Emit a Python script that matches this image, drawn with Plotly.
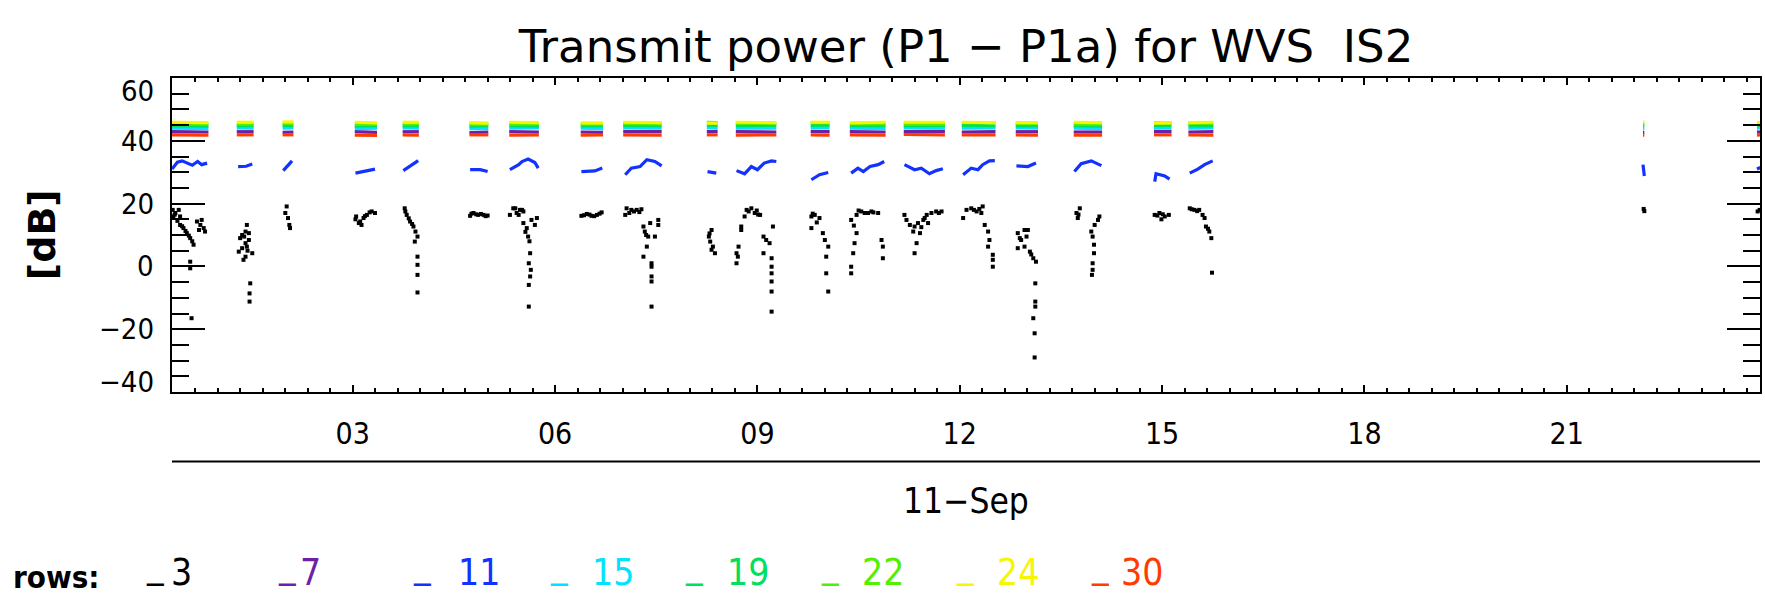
import plotly.graph_objects as go

FONT = "Liberation Sans Narrow, DejaVu Sans Condensed, Liberation Sans, sans-serif"
TITLE_FONT = "DejaVu Sans, Liberation Sans, sans-serif"

# ---- axis ticks -------------------------------------------------------------
hour_ticks = [3, 6, 9, 12, 15, 18, 21]
hour_labels = ["03", "06", "09", "12", "15", "18", "21"]
db_ticks = [-40, -20, 0, 20, 40, 60]
db_labels = ["\u221240", "\u221220", "0", "20", "40", "60"]
day_label = "11\u2212Sep"

# ---- rows and their colours ---------------------------------------------------
row_ids = [3, 7, 11, 15, 19, 22, 24, 30]
row_colors = ["#000000", "#6e1fa6", "#1232ff", "#00e2ff",
              "#00e05e", "#52f000", "#f6f600", "#ff3c00"]

# ---- observing passes (start, end) in hours of 11-Sep ---------------------------
pass_hours = [(0.32, 0.86), (1.28, 1.53), (1.96, 2.12), (3.03, 3.36), (3.74, 3.98),
              (4.73, 5.01), (5.32, 5.76), (6.38, 6.71), (7.01, 7.58), (8.25, 8.41),
              (8.68, 9.28), (9.79, 10.07), (10.37, 10.90), (11.17, 11.78), (12.03, 12.53),
              (12.83, 13.16), (13.69, 14.11), (14.88, 15.14), (15.39, 15.76), (22.13, 22.15),
              (23.82, 23.87)]

# transmit power [dB] at start / end of each pass for the upper rows
row7_db = [(42.9, 42.8), (42.9, 42.9), (42.7, 42.8), (42.9, 42.7), (42.9, 42.9),
           (42.6, 42.8), (42.9, 42.8), (42.8, 42.7), (42.9, 42.9), (42.9, 43.0),
           (42.9, 42.8), (43.0, 42.9), (42.9, 42.8), (42.9, 43.0), (42.8, 42.9),
           (42.9, 42.9), (42.8, 42.8), (43.0, 42.9), (42.8, 42.9), (42.7, 42.7),
           (42.8, 42.8)]
row11_pts = [
    [(0.32, 31.0), (0.40, 33.2), (0.47, 33.6), (0.56, 32.6), (0.62, 32.2), (0.70, 33.4), (0.76, 32.4), (0.84, 32.9)],
    [(1.30, 31.8), (1.42, 31.9), (1.51, 32.6)],
    [(1.97, 30.5), (2.02, 31.8), (2.10, 33.6)],
    [(3.04, 29.7), (3.16, 30.3), (3.33, 31.0)],
    [(3.75, 30.5), (3.88, 32.4), (3.97, 33.7)],
    [(4.74, 30.8), (4.89, 30.8), (5.00, 30.2)],
    [(5.33, 30.8), (5.46, 32.4), (5.51, 33.4), (5.60, 34.2), (5.70, 33.1), (5.75, 31.3)],
    [(6.39, 30.2), (6.59, 30.4), (6.70, 31.3)],
    [(7.04, 29.2), (7.13, 31.3), (7.26, 31.8), (7.36, 34.0), (7.48, 33.4), (7.58, 32.0)],
    [(8.26, 30.2), (8.39, 29.7)],
    [(8.69, 30.5), (8.81, 29.5), (8.91, 31.8), (9.00, 30.8), (9.10, 32.9), (9.21, 33.6), (9.28, 33.4)],
    [(9.80, 27.6), (9.92, 29.2), (10.05, 29.9)],
    [(10.39, 29.7), (10.49, 31.3), (10.57, 30.2), (10.67, 31.8), (10.79, 32.4), (10.88, 33.4)],
    [(11.18, 32.4), (11.33, 30.8), (11.43, 31.3), (11.55, 29.5), (11.65, 30.5), (11.75, 31.1)],
    [(12.05, 29.2), (12.17, 31.3), (12.27, 30.8), (12.34, 32.4), (12.44, 33.6), (12.52, 33.7)],
    [(12.84, 32.0), (13.01, 31.8), (13.13, 32.9)],
    [(13.70, 30.2), (13.80, 32.7), (13.95, 33.6), (14.10, 32.1)],
    [(14.89, 27.0), (14.91, 29.5), (15.04, 28.8), (15.11, 27.8)],
    [(15.41, 29.7), (15.53, 31.0), (15.63, 32.4), (15.75, 33.6)],
    [(22.13, 32.4), (22.14, 30.5), (22.15, 28.8)],
    [(23.82, 31.0), (23.87, 31.5)],
]
row15_db = [(44.0, 43.9), (44.1, 44.0), (44.0, 44.1), (43.9, 44.0), (44.1, 44.0),
            (43.9, 43.9), (44.0, 44.1), (44.0, 43.9), (44.1, 44.0), (44.2, 44.1),
            (44.0, 44.0), (44.2, 44.1), (44.0, 43.9), (44.1, 44.0), (44.0, 44.1),
            (44.1, 44.0), (44.0, 43.9), (44.1, 44.0), (44.0, 44.1), (44.0, 44.0),
            (44.1, 44.1)]
row19_db = [(44.8, 44.7), (44.8, 44.9), (44.9, 44.8), (44.7, 44.8), (44.8, 44.8),
            (44.7, 44.8), (44.8, 44.7), (44.8, 44.8), (44.9, 44.8), (45.0, 44.9),
            (44.8, 44.9), (44.9, 45.0), (44.8, 44.8), (44.8, 44.9), (44.9, 44.8),
            (44.8, 44.8), (44.8, 44.7), (44.9, 44.9), (44.8, 44.8), (44.9, 44.9),
            (44.8, 44.9)]
row22_db = [(45.4, 45.3), (45.3, 45.3), (45.6, 45.5), (45.2, 45.3), (45.3, 45.4),
            (45.2, 45.2), (45.3, 45.4), (45.3, 45.3), (45.5, 45.4), (45.9, 45.8),
            (45.6, 45.5), (45.8, 45.7), (45.5, 45.4), (45.3, 45.3), (45.8, 45.7),
            (45.5, 45.5), (45.3, 45.3), (45.7, 45.6), (45.6, 45.6), (45.4, 45.4),
            (45.5, 45.5)]
row24_db = [(45.9, 45.8), (45.9, 45.9), (46.0, 46.0), (45.9, 45.7), (45.9, 45.9),
            (45.8, 45.6), (45.9, 45.8), (45.7, 45.7), (45.9, 45.8), (45.6, 45.6),
            (45.9, 45.8), (45.9, 45.9), (45.7, 45.9), (45.9, 45.9), (45.9, 45.8),
            (45.8, 45.8), (45.9, 45.8), (45.6, 45.7), (45.8, 45.9), (46.0, 46.0),
            (45.9, 45.8)]
row30_db = [(41.9, 41.8), (41.9, 41.9), (41.9, 41.9), (41.8, 41.7), (41.9, 41.8),
            (41.9, 41.9), (41.8, 41.9), (41.8, 41.9), (41.9, 41.8), (41.9, 41.9),
            (41.8, 41.9), (41.9, 41.8), (41.9, 41.8), (42.0, 41.9), (41.9, 41.9),
            (41.9, 41.8), (41.8, 41.8), (41.9, 41.9), (41.9, 41.8), (41.8, 41.8),
            (41.8, 41.9)]

# row 3 scatters well below the others: (hour, dB)
row3_pts = [
    (0.33, 18.0), (0.34, 15.9), (0.36, 16.5), (0.37, 17.0), (0.40, 14.5), (0.42, 18.0), (0.44, 15.9),
    (0.44, 13.2), (0.47, 12.8), (0.49, 12.2), (0.52, 11.3), (0.54, 10.6), (0.57, 9.8), (0.59, 9.0),
    (0.62, 8.0), (0.64, 6.9), (0.69, 14.3), (0.72, 11.6), (0.74, 13.2), (0.76, 14.8), (0.79, 12.2),
    (0.81, 11.1), (0.59, 1.5), (0.59, -0.6), (0.61, -16.5),
    (1.43, 13.2), (1.41, 11.1), (1.36, 10.0), (1.33, 9.0), (1.46, 8.4), (1.41, 7.4), (1.36, 5.8),
    (1.43, 6.3), (1.31, 4.7), (1.51, 4.2), (1.38, 2.1), (1.41, 3.1), (1.46, 10.6), (1.39, 9.5),
    (1.44, 5.0), (1.48, -5.4), (1.47, -8.6), (1.47, -11.2),
    (2.02, 19.1), (2.00, 17.0), (2.04, 15.4), (2.06, 13.2), (2.07, 12.2),
    (3.04, 15.0), (3.05, 15.9), (3.09, 13.8), (3.11, 14.3), (3.13, 13.2), (3.16, 15.4), (3.18, 16.0),
    (3.21, 16.4), (3.25, 17.2), (3.28, 17.5), (3.33, 17.0),
    (3.77, 18.5), (3.78, 17.5), (3.80, 16.4), (3.83, 15.3), (3.85, 14.3), (3.88, 13.5), (3.90, 12.7),
    (3.93, 11.1), (3.96, 9.5), (3.92, 7.9), (3.96, 3.1), (3.96, 0.5), (3.96, -2.7), (3.96, -8.3),
    (4.74, 16.1), (4.76, 16.8), (4.79, 17.0), (4.83, 16.6), (4.86, 16.4), (4.90, 16.7), (4.94, 16.4),
    (4.97, 16.0), (5.00, 16.2),
    (5.33, 16.4), (5.38, 18.5), (5.41, 18.5), (5.43, 17.0), (5.46, 16.4), (5.48, 18.0), (5.51, 18.0),
    (5.53, 17.5), (5.53, 13.8), (5.56, 11.0), (5.58, 12.2), (5.60, 9.5), (5.62, 8.0), (5.65, 14.8),
    (5.70, 13.2), (5.73, 15.4), (5.63, 4.2), (5.61, 1.0), (5.64, -1.1), (5.63, -3.2), (5.61, -5.9),
    (5.61, -12.8),
    (6.39, 16.1), (6.43, 16.3), (6.47, 16.7), (6.51, 16.5), (6.54, 16.1), (6.58, 16.0), (6.62, 16.4),
    (6.66, 16.8), (6.69, 17.2),
    (7.04, 16.4), (7.06, 18.5), (7.10, 17.0), (7.13, 18.0), (7.17, 17.5), (7.21, 18.0), (7.25, 17.3),
    (7.28, 18.2), (7.31, 12.7), (7.33, 11.1), (7.35, 10.0), (7.38, 9.5), (7.36, 6.3), (7.31, 3.1),
    (7.41, 13.8), (7.53, 14.8), (7.53, 13.2), (7.48, 9.5), (7.43, 1.0), (7.43, -0.1), (7.43, -3.2),
    (7.43, -4.8), (7.43, -12.8),
    (8.29, 10.5), (8.32, 11.6), (8.28, 9.5), (8.30, 7.9), (8.34, 6.3), (8.32, 5.3), (8.37, 4.2),
    (8.69, 1.0), (8.69, 4.2), (8.71, 3.1), (8.72, 6.3), (8.76, 11.6), (8.76, 12.7), (8.81, 15.9),
    (8.84, 18.0), (8.87, 17.5), (8.91, 18.5), (8.96, 17.0), (8.99, 17.8), (9.01, 16.5), (9.04, 16.4),
    (9.09, 9.5), (9.09, 4.2), (9.13, 8.4), (9.18, 7.4), (9.21, 2.6), (9.23, 12.7), (9.21, -0.1),
    (9.21, -2.2), (9.21, -4.8), (9.21, -8.0), (9.21, -14.4),
    (9.80, 15.9), (9.82, 16.8), (9.85, 16.4), (9.88, 14.0), (9.92, 15.4), (9.80, 12.2), (9.97, 10.6),
    (10.00, 8.4), (10.05, 6.3), (10.02, 3.1), (10.02, -2.2), (10.05, -8.0),
    (10.39, 14.8), (10.43, 13.0), (10.47, 16.4), (10.50, 17.8), (10.54, 17.5), (10.59, 17.0),
    (10.64, 17.0), (10.69, 17.5), (10.72, 17.2), (10.79, 17.0), (10.47, 10.6), (10.44, 7.4),
    (10.42, 4.2), (10.39, -0.1), (10.39, -2.2), (10.84, 8.4), (10.86, 6.3), (10.86, 2.6),
    (11.18, 16.4), (11.21, 14.8), (11.26, 13.2), (11.33, 12.7), (11.38, 13.8), (11.43, 12.5),
    (11.46, 14.8), (11.48, 15.4), (11.51, 16.4), (11.53, 13.8), (11.58, 17.0), (11.65, 17.5),
    (11.69, 17.0), (11.73, 17.5), (11.41, 10.6), (11.31, 11.1), (11.36, 7.4), (11.33, 4.2),
    (12.05, 15.4), (12.10, 18.0), (12.17, 18.5), (12.21, 18.0), (12.25, 17.5), (12.29, 18.3),
    (12.32, 17.0), (12.34, 19.1), (12.37, 13.2), (12.42, 11.1), (12.44, 8.4), (12.42, 6.3),
    (12.49, 3.7), (12.49, 2.1), (12.49, -0.1),
    (12.86, 10.6), (12.89, 9.0), (12.91, 8.4), (12.96, 11.6), (12.99, 9.5), (13.01, 11.6),
    (12.86, 5.8), (12.96, 6.3), (13.04, 4.7), (13.06, 3.8), (13.09, 2.6), (13.13, 1.5),
    (13.12, -5.4), (13.12, -11.2), (13.12, -12.8), (13.09, -16.5), (13.11, -21.3), (13.11, -29.0),
    (13.73, 17.0), (13.76, 16.5), (13.78, 18.5), (13.75, 15.4), (13.95, 11.1), (14.00, 13.2),
    (14.05, 14.8), (14.07, 15.9), (13.97, 9.5), (13.99, 6.9), (13.99, 4.2), (13.97, 1.0),
    (13.97, -1.1), (13.96, -2.7),
    (14.89, 16.4), (14.93, 16.2), (14.96, 17.0), (14.99, 15.0), (15.01, 16.6), (15.04, 15.9),
    (15.10, 16.4),
    (15.41, 18.5), (15.44, 18.2), (15.48, 18.0), (15.52, 17.6), (15.55, 18.0), (15.60, 16.4),
    (15.63, 15.4), (15.65, 12.7), (15.68, 12.0), (15.70, 11.1), (15.73, 9.0), (15.74, -2.0),
    (22.14, 18.3), (22.15, 17.6),
    (23.83, 17.5), (23.86, 18.0),
]


def pass_segments(db_pairs):
    """Join start/end readings of every pass into one gapped line."""
    xs, ys = [], []
    for (t0, t1), (v0, v1) in zip(pass_hours, db_pairs):
        xs += [t0, t1, None]
        ys += [v0, v1, None]
    return xs, ys


def gapped(groups):
    xs, ys = [], []
    for g in groups:
        xs += [p[0] for p in g] + [None]
        ys += [p[1] for p in g] + [None]
    return xs, ys


fig = go.Figure()

# row 3 as dots
fig.add_trace(go.Scatter(
    x=[p[0] for p in row3_pts], y=[p[1] for p in row3_pts], mode="markers",
    marker=dict(symbol="square", size=4, color=row_colors[0], line_width=0),
    name="3", hoverinfo="x+y"))

line_rows = {7: pass_segments(row7_db), 11: gapped(row11_pts), 15: pass_segments(row15_db),
             19: pass_segments(row19_db), 22: pass_segments(row22_db),
             24: pass_segments(row24_db), 30: pass_segments(row30_db)}
for rid, col in zip(row_ids[1:], row_colors[1:]):
    xs, ys = line_rows[rid]
    fig.add_trace(go.Scatter(x=xs, y=ys, mode="lines", line=dict(color=col, width=3.2),
                             name=str(rid), hoverinfo="x+y"))

# plot area in pixels
L, R, T, B = 172, 3, 78, 205
PW, PH = 1765 - L - R, 597 - T - B


def px_x(x):
    return (x - L) / PW


def px_y(y):
    return (597 - B - y) / PH


# y tick labels (the end labels sit inside the frame)
label_shift = {60: -13, -40: 10}
for v, txt in zip(db_ticks, db_labels):
    fig.add_annotation(x=0, xref="paper", y=v, yref="y", text=txt, showarrow=False,
                       xanchor="right", xshift=-16, yshift=label_shift.get(v, 0),
                       font=dict(family=FONT, size=29, color="black"))

fig.add_annotation(x=px_x(42), xref="paper", y=0.5, yref="paper", text="<b>[dB]</b>",
                   textangle=-90, showarrow=False, xanchor="center", yanchor="middle",
                   font=dict(family="DejaVu Sans, sans-serif", size=38, color="black"))

# date axis line and label beneath the hour labels
fig.add_shape(type="line", xref="paper", yref="paper", x0=0, x1=1,
              y0=px_y(461.5), y1=px_y(461.5), line=dict(color="black", width=2))
fig.add_annotation(x=0.5, xref="paper", y=px_y(501), yref="paper", text=day_label,
                   showarrow=False, yanchor="middle",
                   font=dict(family=FONT, size=35, color="black"))

# colour key along the bottom edge
key_y = px_y(596)
fig.add_annotation(x=px_x(11), xref="paper", y=key_y, yref="paper", yshift=-1,
                   text="<b>rows:</b>", showarrow=False, xanchor="left", yanchor="bottom",
                   font=dict(family=FONT, size=31, color="black"))
key_bar_x = [144, 276, 411, 548, 684, 820, 955, 1090]
key_num_x = [169, 298, 456, 591, 726, 861, 996, 1120]
for rid, col, bx, nx in zip(row_ids, row_colors, key_bar_x, key_num_x):
    fig.add_annotation(x=px_x(bx), xref="paper", y=key_y, yref="paper", yshift=8, text="_",
                       showarrow=False, xanchor="left", yanchor="bottom",
                       font=dict(family=FONT, size=37, color=col))
    fig.add_annotation(x=px_x(nx), xref="paper", y=key_y, yref="paper", text=str(rid),
                       showarrow=False, xanchor="left", yanchor="bottom",
                       font=dict(family=FONT, size=37, color=col))

fig.update_layout(
    width=1765, height=597,
    margin=dict(l=L, r=R, t=T, b=B),
    paper_bgcolor="white", plot_bgcolor="white",
    showlegend=False,
    title=dict(text="Transmit power (P1 \u2212 P1a) for WVS  IS2", x=0.5, xref="paper",
               y=1 - 46 / 597, yref="container", xanchor="center", yanchor="middle",
               font=dict(family=TITLE_FONT, size=45, color="black")),
    xaxis=dict(range=[0.32, 23.865], tickvals=hour_ticks, ticktext=hour_labels,
               ticks="inside", ticklen=7, tickwidth=2, tickcolor="black",
               showline=True, linecolor="black", linewidth=2, mirror="ticks",
               showgrid=False, zeroline=False, ticklabelstandoff=14,
               tickfont=dict(family=FONT, size=30, color="black"),
               minor=dict(dtick=1 / 3, tick0=0, ticks="inside", ticklen=4, tickwidth=2,
                          tickcolor="black", showgrid=False)),
    yaxis=dict(range=[-40, 60], tickvals=db_ticks, showticklabels=False,
               ticks="inside", ticklen=33, tickwidth=2, tickcolor="black",
               showline=True, linecolor="black", linewidth=2, mirror="ticks",
               showgrid=False, zeroline=False,
               minor=dict(dtick=5, tick0=0, ticks="inside", ticklen=17, tickwidth=2,
                          tickcolor="black", showgrid=False)),
)

fig.write_html("out.html")
